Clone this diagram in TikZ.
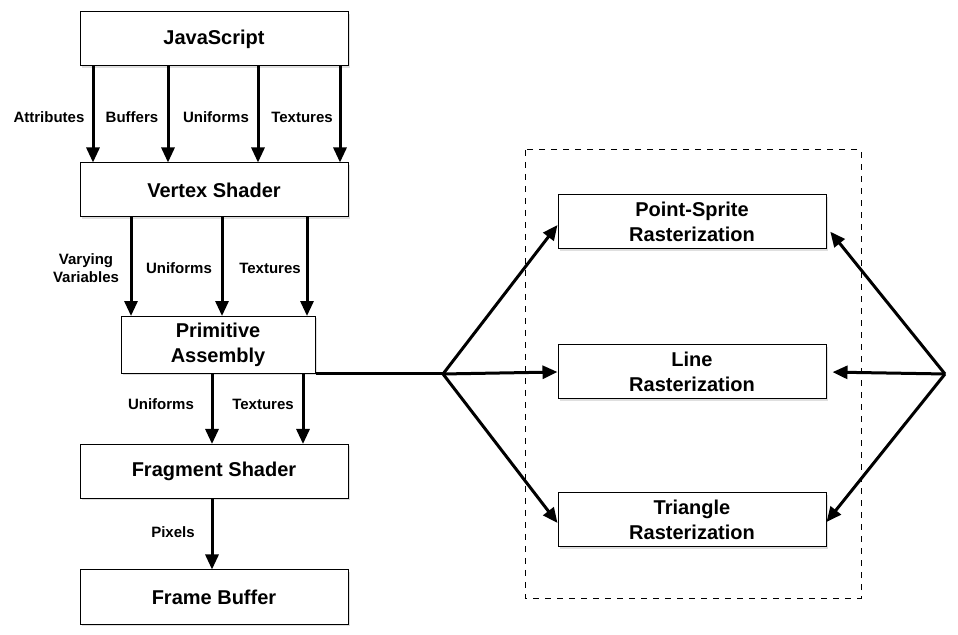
\documentclass[tikz,border=0pt]{standalone}
\usepackage{fontspec}
\setmainfont{Liberation Sans}
\usetikzlibrary{arrows.meta, shadows}

\begin{document}
\begin{tikzpicture}[x=0.5pt, y=-0.5pt,
    stage/.style={draw, line width=0.5pt, fill=white, minimum width=134pt, minimum height=27pt,
        align=center, font=\fontsize{10}{12.5}\selectfont\bfseries,
        drop shadow={shadow xshift=0.8pt, shadow yshift=-0.8pt, opacity=0.25}},
    lbl/.style={align=center, font=\fontsize{7.5}{8.7}\selectfont\bfseries},
    flow/.style={-{Triangle[length=7.5pt, width=6.5pt]}, line width=1.5pt}]
    \useasboundingbox (0,0) rectangle (958,635);

    % Rasterization group
    \draw[dashed, line width=0.5pt] (525,150) rectangle (861,598);

    % Pipeline stages
    \node[stage] (js) at (214,39) {JavaScript};
    \node[stage] (vs) at (214,190) {Vertex Shader};
    \node[stage, minimum width=97pt] (pa) at (218,345) {Primitive\\Assembly};
    \node[stage] (fs) at (214,471.5) {Fragment Shader};
    \node[stage] (fb) at (214,597) {Frame Buffer};

    % Rasterizers
    \node[stage] (ps) at (692,222) {Point-Sprite\\Rasterization};
    \node[stage] (lr) at (692,372) {Line\\Rasterization};
    \node[stage] (tr) at (692,520) {Triangle\\Rasterization};

    % JavaScript -> Vertex Shader
    \draw[flow] (js.south -| 93,0) -- (vs.north -| 93,0);
    \draw[flow] (js.south -| 168,0) -- (vs.north -| 168,0);
    \draw[flow] (js.south -| 258,0) -- (vs.north -| 258,0);
    \draw[flow] (js.south -| 340,0) -- (vs.north -| 340,0);
    \node[lbl] (attr) at (49,117) {Attributes};
    \node[lbl] (buf) at (132,117) {Buffers};
    \node[lbl] (uni1) at (216,117) {Uniforms};
    \node[lbl] (tex1) at (302,117) {Textures};

    % Vertex Shader -> Primitive Assembly
    \draw[flow] (vs.south -| 131,0) -- (pa.north -| 131,0);
    \draw[flow] (vs.south -| 222,0) -- (pa.north -| 222,0);
    \draw[flow] (vs.south -| 307,0) -- (pa.north -| 307,0);
    \node[lbl] (vary) at (86,268) {Varying\\Variables};
    \node[lbl] (uni2) at (179,268) {Uniforms};
    \node[lbl] (tex2) at (270,268) {Textures};

    % Primitive Assembly -> Fragment Shader
    \draw[flow] (pa.south -| 212,0) -- (fs.north -| 212,0);
    \draw[flow] (pa.south -| 303,0) -- (fs.north -| 303,0);
    \node[lbl] (uni3) at (161,404) {Uniforms};
    \node[lbl] (tex3) at (263,404) {Textures};

    % Fragment Shader -> Frame Buffer
    \draw[flow] (fs.south -| 212,0) -- (fb.north -| 212,0);
    \node[lbl] (pix) at (173,532) {Pixels};

    % Primitives out to the rasterizers
    \coordinate (fork) at (pa.south east -| 443,0);
    \coordinate (back) at (pa.south east -| 945,0);
    \draw[line width=1.5pt] (pa.south east) -- (fork);
    \draw[flow] (fork) -- ([yshift=-1.5pt]ps.west);
    \draw[flow] (fork) -- (lr.west);
    \draw[flow] (fork) -- ([yshift=-1.5pt]tr.west);
    \draw[flow, shorten >=3pt] (back) -- ([yshift=-2.5pt]ps.east);
    \draw[flow, shorten >=3pt] (back) -- (lr.east);
    \draw[flow] (back) -- ([yshift=-1pt]tr.east);
\end{tikzpicture}
\end{document}
